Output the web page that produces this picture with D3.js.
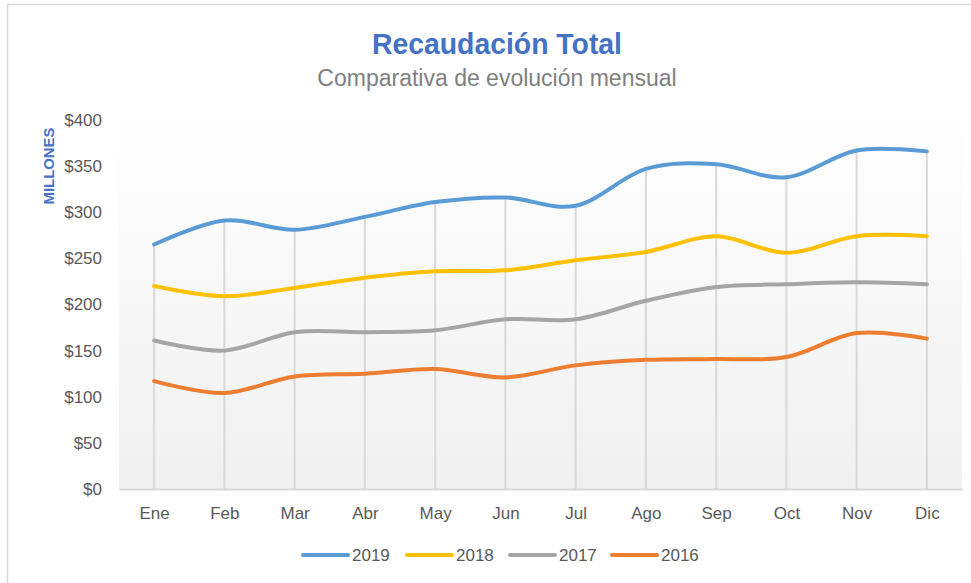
<!DOCTYPE html>
<html lang="es">
<head>
<meta charset="utf-8">
<title>Recaudación Total</title>
<script src="https://d3js.org/d3.v7.min.js"></script>
<style>
  body { margin: 0; background: #fff; }
  text { font-family: "Liberation Sans", Arial, sans-serif; }
</style>
</head>
<body>
<script>
// chart data
var months = ["Ene", "Feb", "Mar", "Abr", "May", "Jun", "Jul", "Ago", "Sep", "Oct", "Nov", "Dic"];
var years = ["2019", "2018", "2017", "2016"];
var v2019 = [265, 291, 281, 295, 311, 316, 307, 347, 352, 338, 367, 366];
var v2018 = [220, 209, 218, 229, 236, 237, 248, 257, 274, 256, 274, 274];
var v2017 = [161, 150, 170, 170, 172, 184, 184, 204, 219, 222, 224, 222];
var v2016 = [117, 104, 122, 125, 130, 121, 134, 140, 141, 143, 169, 163];
var yTicks = [0, 50, 100, 150, 200, 250, 300, 350, 400];
var colors = ["#5b9bd5", "#ffc000", "#a5a5a5", "#ed7d31"];

var series = [v2019, v2018, v2017, v2016];

var w = 971, h = 583;
var pLeft = 119, pRight = 962, pTop = 120, pBottom = 489;

var svg = d3.select("body").append("svg").attr("width", w).attr("height", h);

// outer frame
svg.append("rect").attr("x", 7.5).attr("y", 4.5).attr("width", 990).attr("height", 600)
  .attr("fill", "#fff").attr("stroke", "#d9d9d9").attr("stroke-width", 1.5);

var defs = svg.append("defs");
var grad = defs.append("linearGradient").attr("id", "bg").attr("x1", 0).attr("y1", 0).attr("x2", 0).attr("y2", 1);
grad.append("stop").attr("offset", "0%").attr("stop-color", "#ffffff");
grad.append("stop").attr("offset", "100%").attr("stop-color", "#f0f0f0");

var x = d3.scalePoint().domain(months).range([pLeft, pRight]).padding(0.5);
var y = d3.scaleLinear().domain([0, 400]).range([pBottom, pTop]);

// plot area
svg.append("rect").attr("x", pLeft).attr("y", pTop - 10).attr("width", pRight - pLeft).attr("height", pBottom - pTop + 10)
  .attr("fill", "url(#bg)");

// titles
svg.append("text").attr("x", 497).attr("y", 54).attr("text-anchor", "middle")
  .attr("font-size", 30).attr("font-weight", "bold").attr("fill", "#4472c4")
  .attr("textLength", 250).attr("lengthAdjust", "spacingAndGlyphs").text("Recaudación Total");
svg.append("text").attr("x", 497).attr("y", 86).attr("text-anchor", "middle")
  .attr("font-size", 23).attr("fill", "#7f7f7f").text("Comparativa de evolución mensual");

// y axis label
svg.append("text").attr("transform", "translate(54,166) rotate(-90)").attr("text-anchor", "middle")
  .attr("font-size", 15).attr("font-weight", "bold").attr("fill", "#4472c4")
  .attr("textLength", 77).attr("lengthAdjust", "spacingAndGlyphs").text("MILLONES");

// drop lines
svg.append("g").selectAll("line").data(months).join("line")
  .attr("x1", function(d) { return x(d); }).attr("x2", function(d) { return x(d); })
  .attr("y1", function(d, i) { return y(d3.max(series, function(s) { return s[i]; })); })
  .attr("y2", pBottom)
  .attr("stroke", "#d9d9d9").attr("stroke-width", 2);

// axes
var yAxis = d3.axisLeft(y).tickValues(yTicks).tickSize(0).tickPadding(17)
  .tickFormat(function(d) { return "$" + d; });
var gy = svg.append("g").attr("transform", "translate(" + pLeft + ",0)").call(yAxis);
gy.select(".domain").remove();
gy.selectAll("text").attr("font-size", 17).attr("fill", "#595959")
  .style("font-family", '"Liberation Sans", Arial, sans-serif');

var xAxis = d3.axisBottom(x).tickSize(0).tickPadding(18);
var gx = svg.append("g").attr("transform", "translate(0," + pBottom + ")").call(xAxis);
gx.select(".domain").attr("stroke", "#d9d9d9").attr("stroke-width", 2);
gx.selectAll("text").attr("font-size", 17).attr("fill", "#595959")
  .style("font-family", '"Liberation Sans", Arial, sans-serif');

// lines
var line = d3.line()
  .x(function(d, i) { return x(months[i]); })
  .y(function(d) { return y(d); })
  .curve(d3.curveCardinal.tension(0));

svg.append("g").selectAll("path").data(series).join("path")
  .attr("d", line)
  .attr("fill", "none")
  .attr("stroke", function(d, i) { return colors[i]; })
  .attr("stroke-width", 4)
  .attr("stroke-linecap", "round");

// legend
var legX = [303, 407, 510, 612];
var leg = svg.append("g").selectAll("g").data(years).join("g")
  .attr("transform", function(d, i) { return "translate(" + legX[i] + ",555)"; });
leg.append("line").attr("x1", 0).attr("x2", 45).attr("y1", 0).attr("y2", 0)
  .attr("stroke", function(d, i) { return colors[i]; }).attr("stroke-width", 4).attr("stroke-linecap", "round");
leg.append("text").attr("x", 49).attr("y", 6).attr("font-size", 17).attr("fill", "#595959").text(function(d) { return d; });
</script>
</body>
</html>
